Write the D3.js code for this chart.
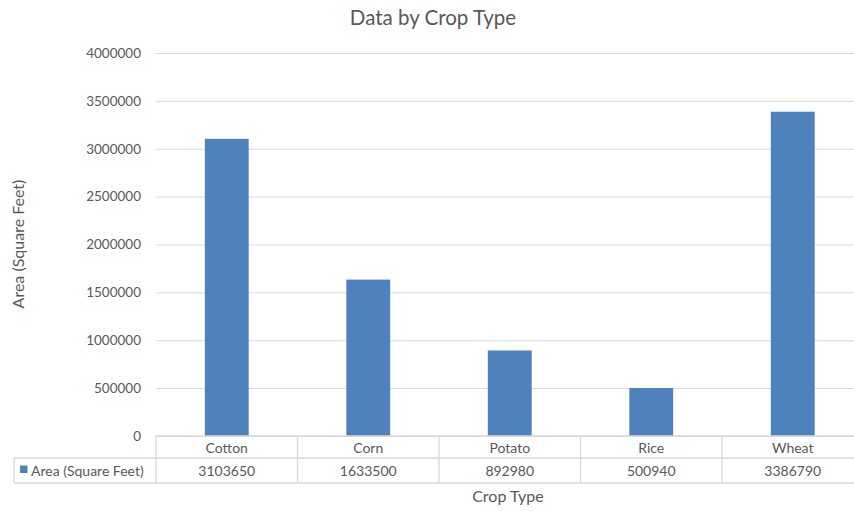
<!DOCTYPE html>
<html>
<head>
<meta charset="utf-8">
<script src="https://cdn.jsdelivr.net/npm/d3@7/dist/d3.min.js"></script>
<style>
  html, body { margin: 0; padding: 0; background: #fff; }
  svg { display: block; font-family: Lato, "Open Sans", sans-serif; }
</style>
</head>
<body>
<svg id="chart" width="854" height="511"></svg>
<script>
// Crop areas in square feet
const crops = ["Cotton", "Corn", "Potato", "Rice", "Wheat"];
const areas = [3103650, 1633500, 892980, 500940, 3386790];
const yTicks = [0, 500000, 1000000, 1500000, 2000000, 2500000, 3000000, 3500000, 4000000];
const seriesName = "Area (Square Feet)";

const svg = d3.select("#chart");
const W = 854, H = 511;
const plot = { left: 156, right: 863.5, top: 53, bottom: 436 };
const barColor = "#4f81bd";
const gridColor = "#d9d9d9";
const textColor = "#595959";

const x = d3.scaleBand().domain(crops).range([plot.left, plot.right]).paddingInner(0.69).paddingOuter(0.345);
const cell = d3.scaleBand().domain(crops).range([plot.left, plot.right]);
const y = d3.scaleLinear().domain([0, 4000000]).range([plot.bottom, plot.top]);

// title
svg.append("text").attr("x", 433).attr("y", 25).attr("text-anchor", "middle")
  .attr("font-size", 20.5).attr("fill", textColor).text("Data by Crop Type");

// gridlines + y axis labels
const yAxis = d3.axisLeft(y).tickValues(yTicks).tickSize(-(plot.right - plot.left)).tickPadding(15)
  .tickFormat(d3.format("d"));
const ga = svg.append("g").attr("transform", `translate(${plot.left},0)`).call(yAxis);
ga.select(".domain").remove();
ga.selectAll(".tick line").attr("stroke", gridColor).attr("stroke-width", 1);
ga.selectAll(".tick text").attr("fill", textColor).attr("font-size", 13.5).attr("font-family", "Lato, sans-serif");

// bars
svg.append("g").selectAll("rect").data(crops).join("rect")
  .attr("x", d => x(d))
  .attr("width", x.bandwidth())
  .attr("y", (d, i) => y(areas[i]))
  .attr("height", (d, i) => y(0) - y(areas[i]))
  .attr("fill", barColor);

// data table
const rowTop = plot.bottom, rowMid = 458, rowBot = 483, tableLeft = 14;
const tl = svg.append("g").attr("stroke", gridColor).attr("stroke-width", 1.3).attr("fill", "none");
tl.append("line").attr("x1", plot.left).attr("x2", W).attr("y1", rowTop).attr("y2", rowTop);
tl.append("line").attr("x1", tableLeft).attr("x2", W).attr("y1", rowMid).attr("y2", rowMid);
tl.append("line").attr("x1", tableLeft).attr("x2", W).attr("y1", rowBot).attr("y2", rowBot);
tl.append("line").attr("x1", tableLeft).attr("x2", tableLeft).attr("y1", rowMid).attr("y2", rowBot);
tl.selectAll("line.v").data(crops.concat(["end"])).join("line").attr("class", "v")
  .attr("x1", d => d === "end" ? plot.right : cell(d))
  .attr("x2", d => d === "end" ? plot.right : cell(d))
  .attr("y1", rowTop).attr("y2", rowBot);

const tt = svg.append("g").attr("fill", textColor).attr("font-size", 14).attr("text-anchor", "middle");
tt.selectAll("text.cat").data(crops).join("text").attr("class", "cat")
  .attr("x", d => cell(d) + cell.bandwidth() / 2).attr("y", 452.5).text(d => d);
tt.selectAll("text.val").data(crops).join("text").attr("class", "val")
  .attr("x", d => cell(d) + cell.bandwidth() / 2).attr("y", 475.5).text((d, i) => areas[i]);

// legend key in table
svg.append("rect").attr("x", 20).attr("y", 465.5).attr("width", 7.5).attr("height", 7.5).attr("fill", barColor);
svg.append("text").attr("x", 31).attr("y", 475.5).attr("fill", textColor).attr("font-size", 14).text(seriesName);

// axis titles
svg.append("text").attr("x", 508).attr("y", 502).attr("text-anchor", "middle")
  .attr("fill", textColor).attr("font-size", 16).text("Crop Type");
svg.append("text").attr("transform", "translate(24,244) rotate(-90)").attr("text-anchor", "middle")
  .attr("fill", textColor).attr("font-size", 16).text("Area (Square Feet)");
</script>
</body>
</html>
